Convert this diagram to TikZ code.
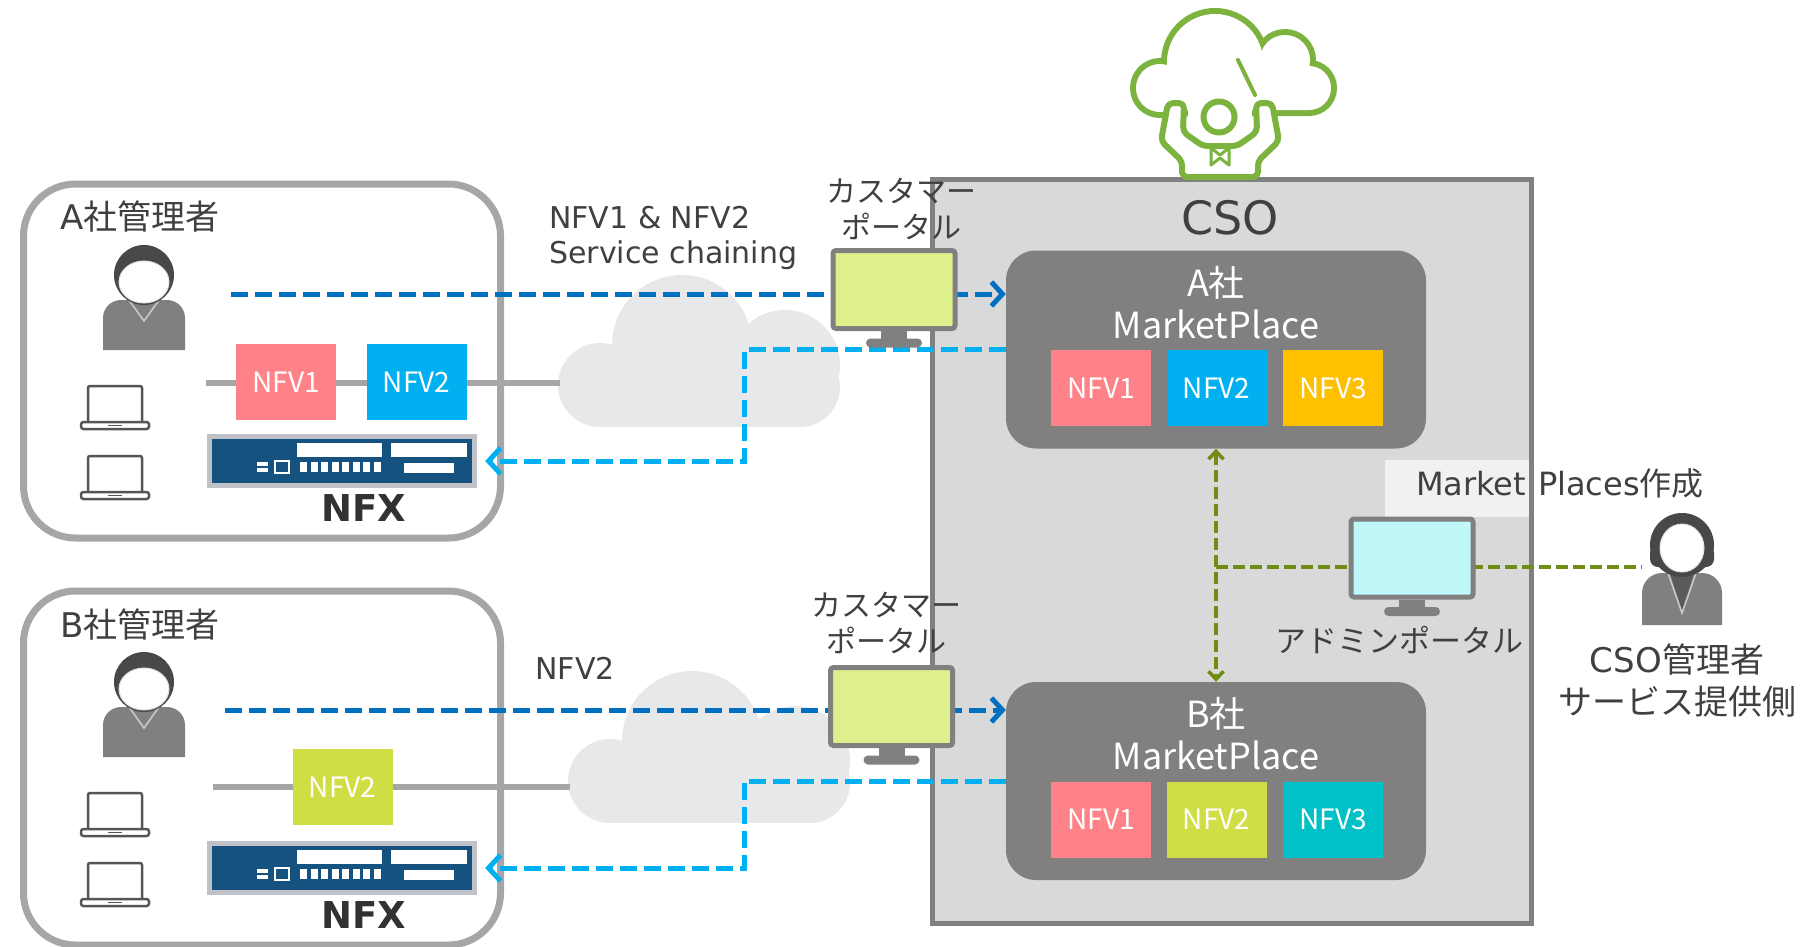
\documentclass[tikz,border=0pt]{standalone}
\usepackage{fontspec}
\setmainfont{DejaVu Sans}
\newfontfamily\jp{Noto Sans CJK JP}
\usetikzlibrary{arrows.meta,positioning}

\definecolor{textgray}{RGB}{64,64,64}
\definecolor{nfxtext}{RGB}{50,50,50}
\definecolor{framegray}{RGB}{166,166,166}
\definecolor{framedark}{RGB}{128,128,128}
\definecolor{csogray}{RGB}{217,217,217}
\definecolor{mpgray}{RGB}{128,128,128}
\definecolor{nfvpink}{RGB}{255,130,137}
\definecolor{nfvblue}{RGB}{0,176,240}
\definecolor{nfvorange}{RGB}{255,192,0}
\definecolor{nfvlime}{RGB}{208,222,69}
\definecolor{nfvteal}{RGB}{0,192,200}
\definecolor{reqblue}{RGB}{0,112,192}
\definecolor{repblue}{RGB}{0,176,240}
\definecolor{adminolive}{RGB}{112,140,20}
\definecolor{cloudgray}{RGB}{231,232,234}
\definecolor{nfxblue}{RGB}{22,82,128}
\definecolor{nfxframe}{RGB}{190,194,199}
\definecolor{conductor}{RGB}{124,178,62}
\definecolor{screenlime}{RGB}{222,240,140}
\definecolor{screencyan}{RGB}{192,248,250}
\definecolor{icongray}{RGB}{85,85,85}
\definecolor{bodygray}{RGB}{128,128,128}
\definecolor{hairgray}{RGB}{72,72,74}

\newcommand\pxfont[2]{\fontsize{#1}{#2}\selectfont}

% male user icon, #1,#2 = centre of the head
\newcommand\userman[2]{%
  \fill[bodygray] ({#1-41},{#2+75}) -- ({#1-41},{#2+43})
    arc[start angle=180,end angle=270,radius=18] -- ({#1+23},{#2+25})
    arc[start angle=270,end angle=360,radius=18] -- ({#1+41},{#2+75}) -- cycle;
  \draw[white!80!black,line width=1.5pt] ({#1-15},{#2+25}) -- (#1,{#2+46}) -- ({#1+15},{#2+25});
  \fill[hairgray] (#1,#2) circle (30);
  \fill[white,draw=black!12,line width=1pt] (#1,{#2+7}) ellipse (25 and 21);
}
% female user icon
\newcommand\userwoman[2]{%
  \fill[bodygray] ({#1-40},{#2+80}) -- ({#1-40},{#2+48})
    arc[start angle=180,end angle=270,radius=20] -- ({#1+20},{#2+28})
    arc[start angle=270,end angle=360,radius=20] -- ({#1+40},{#2+80}) -- cycle;
  \fill[hairgray!90] ({#1-12},{#2+28}) -- (#1,{#2+66}) -- ({#1+12},{#2+28}) -- cycle;
  \draw[white!80!black,line width=1.5pt] ({#1-14},{#2+28}) -- (#1,{#2+68}) -- ({#1+14},{#2+28});
  \fill[hairgray] (#1,#2) circle (32);
  \fill[hairgray,rounded corners=8pt] ({#1-32},#2) rectangle ({#1+32},{#2+22});
  \fill[white,draw=black!12,line width=1pt] (#1,{#2+3}) ellipse (22 and 24);
}
% laptop outline, #1 = centre x, #2 = top of the screen
\newcommand\laptop[2]{%
  \draw[icongray,line width=2.5pt,rounded corners=2pt] ({#1-27},{#2+36}) -- ({#1-27},#2) -- ({#1+27},#2) -- ({#1+27},{#2+36});
  \draw[icongray,line width=2.5pt,rounded corners=2.5pt] ({#1-34},{#2+36}) rectangle ({#1+34},{#2+43});
  \draw[icongray,line width=1.2pt] ({#1-7},{#2+39.5}) -- ({#1+7},{#2+39.5});
}
% NFX appliance front panel
\newcommand\nfxbox[3]{%
  \node[fill=nfxframe,minimum width=270pt,minimum height=54pt,inner sep=0pt] (nfx#1) at (#2,#3) {};
  \fill[nfxblue] ({#2-130},{#3-22}) rectangle ({#2+130},{#3+22});
  \fill[white] ({#2-45},{#3-18}) rectangle ({#2+40},{#3-4});
  \fill[white] ({#2+49},{#3-18}) rectangle ({#2+125},{#3-4});
  \fill[white] ({#2+62},{#3+2}) rectangle ({#2+112},{#3+12});
  \foreach \k in {0,...,7}
    \fill[white] ({#2-42+10.5*\k},{#3+1}) rectangle ({#2-35+10.5*\k},{#3+11});
  \fill[white] ({#2-85},{#3+1}) rectangle ({#2-74},{#3+5});
  \fill[white] ({#2-85},{#3+7}) rectangle ({#2-74},{#3+11});
  \draw[white,line width=1.5pt] ({#2-67},{#3}) rectangle ({#2-53},{#3+12});
}
% monitor foot under a screen node
\newcommand\stand[1]{%
  \fill[framedark] ([xshift=-13pt]#1.south) rectangle ([xshift=13pt,yshift=-9pt]#1.south);
  \fill[framedark,rounded corners=4.5pt] ([xshift=-28pt,yshift=-7.5pt]#1.south) rectangle ([xshift=28pt,yshift=-16.5pt]#1.south);
}

\begin{document}
\begin{tikzpicture}[x=1pt,y=-1pt,
    company/.style={draw=framegray,line width=7pt,fill=white,rounded corners=52pt,
                    minimum width=477pt,minimum height=354pt,inner sep=0pt},
    csobox/.style={fill=csogray,minimum width=599pt,minimum height=744pt,inner sep=0pt},
    market/.style={fill=mpgray,rounded corners=30pt,minimum width=420pt,minimum height=198pt,inner sep=0pt},
    nfv/.style={minimum width=100pt,minimum height=76pt,inner sep=0pt,text=white,font=\jp\pxfont{28}{32}},
    screen/.style={draw=framedark,line width=5pt,rounded corners=3pt,minimum width=122pt,minimum height=78pt,inner sep=0pt},
    txt/.style={text=textgray,inner sep=0pt},
    lanline/.style={draw=framegray,line width=6pt},
    request/.style={draw=reqblue,line width=5pt,dash pattern=on 17pt off 7pt,-{Straight Barb[length=11pt,width=24pt]}},
    reply/.style={draw=repblue,line width=5pt,dash pattern=on 17pt off 7pt,-{Straight Barb[length=12pt,width=26pt]}},
    adminlink/.style={draw=adminolive,line width=3.5pt,dash pattern=on 12pt off 5pt}
  ]
  \useasboundingbox (0,0) rectangle (1809,946);

  % customer sites
  \foreach \co/\dy in {A/0,B/407}
    {
    \begin{scope}[shift={(0,\dy)}]
      \node[company] (box\co) at (262,361) {};
      \node[txt,anchor=west,font=\pxfont{34}{40}] (title\co) at (60,217) {\co\jp 社管理者};
      \userman{144}{275}
      \laptop{115}{386}
      \laptop{115}{456}
      \nfxbox{\co}{342}{461}
      \node[txt,text=nfxtext,font=\bfseries\pxfont{37}{40}] (nfxname\co) at (364,508) {NFX};
    \end{scope}
    }

  % CSO area
  \node[csobox] (cso) at (1232,551.5) {};
  \fill[white,fill opacity=.65] (1385,460) rectangle (1725,517);
  \draw[framedark,line width=5pt] (cso.north west) rectangle (cso.south east);
  \node[txt,font=\pxfont{46}{50}] (csoname) at (1230,218) {CSO};

  % internet clouds
  \foreach \dx/\dy in {0/0,10/396}
    {
    \begin{scope}[shift={(\dx,\dy)}]
      \foreach \cx/\cy/\rad in {600/385/42,682/345/70,785/365/55,800/387/40}
        \fill[cloudgray] (\cx,\cy) circle (\rad);
      \fill[cloudgray] (600,345) rectangle (800,427);
    \end{scope}
    }

  % LAN side service chains
  \coordinate (lanA) at (206,383);
  \coordinate (wanA) at (560,383);
  \coordinate (lanB) at (213,787);
  \coordinate (wanB) at (570,787);
  \draw[lanline] (lanA) -- (wanA);
  \draw[lanline] (lanB) -- (wanB);
  \node[nfv,fill=nfvpink] (nfv1A) at (286,382) {NFV1};
  \node[nfv,fill=nfvblue] (nfv2A) at (416.5,382) {NFV2};
  \node[nfv,fill=nfvlime] (nfv2B) at (342.5,787) {NFV2};

  % market places
  \foreach \co/\my/\second/\third in {A/349.5/nfvblue/nfvorange,B/781/nfvlime/nfvteal}
    {
    \node[market] (mp\co) at (1216,\my) {};
    \node[txt,text=white,align=center,font=\jp\pxfont{36}{42}] (mpname\co) at (1216,\my-47) {\co 社\\MarketPlace};
    \node[nfv,fill=nfvpink] (mp\co nfv1) at (1101,\my+38.5) {NFV1};
    \node[nfv,fill=\second] (mp\co nfv2) at (1216.5,\my+38.5) {NFV2};
    \node[nfv,fill=\third] (mp\co nfv3) at (1333,\my+38.5) {NFV3};
    }

  % orders and deployments
  \coordinate (reqA) at (231,294);
  \coordinate (reqB) at (225,710);
  \draw[request] (reqA) -- (reqA -| mpA.west);
  \draw[request] (reqB) -- (reqB -| mpB.west);
  \coordinate (turnA) at (744,461);
  \coordinate (turnB) at (744,868);
  \draw[reply,shorten >=8pt] (mpA.west) -| (turnA) -- (turnA -| nfxA.east);
  \draw[reply,shorten >=8pt] (mpB.west) -| (turnB) -- (turnB -| nfxB.east);

  % admin side
  \node[minimum width=80pt,minimum height=112pt,inner sep=0pt] (csoadmin) at (1682,569) {};
  \userwoman{1682}{545}
  \coordinate (adminjoin) at (1216,567);
  \draw[adminlink,{Straight Barb[length=8pt,width=15pt]}-{Straight Barb[length=8pt,width=15pt]}] (mpA.south) -- (mpB.north);
  \draw[adminlink] (adminjoin) -- (adminjoin -| csoadmin.west);

  % portals
  \node[screen,fill=screenlime] (portalA) at (894,289.5) {};
  \stand{portalA}
  \node[screen,fill=screenlime] (portalB) at (891.5,706.5) {};
  \stand{portalB}
  \node[screen,fill=screencyan] (adminportal) at (1412,558) {};
  \stand{adminportal}

  % labels
  \node[txt,align=center,font=\jp\pxfont{30}{36}] (portalAname) at (901,209) {カスタマー\\ポータル};
  \node[txt,align=center,font=\jp\pxfont{30}{36}] (portalBname) at (886,623) {カスタマー\\ポータル};
  \node[txt,font=\jp\pxfont{31}{36}] (adminportalname) at (1399,640) {アドミンポータル};
  \node[txt,font=\pxfont{32}{36}] (mpmake) at (1560,483) {Market\hspace{12pt}Places\jp 作成};
  \node[txt,align=center,font=\pxfont{34}{42}] (csoadminname) at (1677,680) {CSO{\jp 管理者}\\{\jp サービス提供側}};
  \node[txt,anchor=west,align=left,font=\pxfont{30}{35}] (chainA) at (549,238) {NFV1 \& NFV2\\Service chaining};
  \node[txt,font=\pxfont{30}{34}] (chainB) at (575,668) {NFV2};

  % orchestrator icon above the CSO box
  \begin{scope}[line join=round]
    \foreach \cx/\cy/\rad in {1160/88/24,1215/62/48,1285/60/25,1309/88/22}
      \draw[conductor,line width=12pt] (\cx,\cy) circle (\rad);
    \draw[conductor,line width=12pt] (1160,88) -- (1215,62) -- (1285,60) -- (1309,88) -- (1309,110) -- (1160,110) -- cycle;
    \foreach \cx/\cy/\rad in {1160/88/24,1215/62/48,1285/60/25,1309/88/22}
      \fill[white] (\cx,\cy) circle (\rad);
    \fill[white] (1160,88) -- (1215,62) -- (1285,60) -- (1309,88) -- (1309,110) -- (1160,110) -- cycle;
    \fill[white] (1188,104) rectangle (1252,120);
    \draw[conductor,line width=6pt,fill=white,rounded corners=5pt]
      (1182,177) -- (1182,161) -- (1161,141) -- (1168,103) -- (1184,103) -- (1183,132) -- (1203,146)
      -- (1237,146) -- (1257,132) -- (1256,103) -- (1272,103) -- (1279,141) -- (1258,161) -- (1258,177) -- cycle;
    \draw[conductor,line width=6pt,fill=white] (1219,117) circle (15.5);
    \draw[conductor,line width=3pt,fill=white] (1211,148) -- (1220,155) -- (1229,148) -- (1229,165) -- (1220,158) -- (1211,165) -- cycle;
    \draw[conductor,line width=4pt,line cap=round] (1238,60) -- (1255,95);
  \end{scope}
\end{tikzpicture}
\end{document}
